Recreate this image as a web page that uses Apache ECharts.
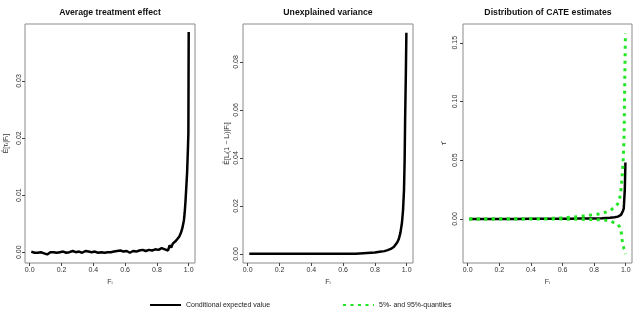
<!DOCTYPE html>
<html><head><meta charset="utf-8">
<script src="https://cdn.jsdelivr.net/npm/echarts@6/dist/echarts.min.js"></script>
<style>html,body{margin:0;padding:0;background:#fff}#c{width:640px;height:309px}</style>
</head><body><div id="c"></div>
<script>
// ---- data ----
const ateF = [0.01,0.03,0.05,0.07,0.09,0.11,0.13,0.15,0.17,0.19,0.21,0.23,0.25,0.27,0.29,0.31,0.33,0.35,0.37,0.39,0.41,0.43,0.45,0.47,0.49,0.51,0.53,0.55,0.57,0.59,0.61,0.63,0.65,0.67,0.69,0.71,0.73,0.75,0.77,0.79,0.81,0.83,0.85,0.87,0.88,0.89,0.90,0.91,0.92,0.93,0.94,0.95,0.96,0.965,0.97,0.975,0.98,0.985,0.99,0.995,0.998,0.999,1.0];
const ateVal = [0.0001,-0.0001,-0.0001,0.0000,-0.0002,-0.0004,0.0000,0.0000,-0.0001,0.0000,0.0001,-0.0001,0.0000,0.0002,0.0000,0.0001,-0.0001,0.0002,0.0001,0.0000,0.0001,-0.0001,0.0000,-0.0001,0.0000,0.0000,0.0001,0.0002,0.0003,0.0001,0.0002,-0.0001,0.0002,0.0001,0.0003,0.0004,0.0002,0.0004,0.0003,0.0005,0.0004,0.0007,0.0005,0.0003,0.0012,0.0008,0.0015,0.0014,0.0020,0.0022,0.0027,0.0033,0.0042,0.0045,0.0056,0.0070,0.0090,0.0115,0.0140,0.0180,0.0209,0.0300,0.0386];

const varF = [0.01,0.1,0.2,0.3,0.4,0.5,0.6,0.68,0.69,0.75,0.8,0.83,0.86,0.88,0.9,0.92,0.94,0.95,0.96,0.97,0.977,0.983,0.987,0.99,0.995,0.998];
const varVal = [0.0001,0.0001,0.0001,0.0001,0.0001,0.0001,0.0001,0.0001,0.0003,0.0004,0.0006,0.0009,0.0012,0.0016,0.0021,0.0030,0.0048,0.0062,0.0087,0.0129,0.0183,0.0267,0.0390,0.0558,0.0767,0.0922];

const cateF = [0.01,0.1,0.2,0.3,0.4,0.5,0.6,0.65,0.7,0.75,0.8,0.85,0.9,0.93,0.95,0.96,0.97,0.977,0.983,0.9875,0.99,0.994,0.998];
const cateMean = [0,0,0,0,0.0001,0.0001,0.0002,0.0002,0.0003,0.0003,0.0004,0.0006,0.0010,0.0014,0.0020,0.0026,0.0035,0.0048,0.0070,0.0090,0.0105,0.0250,0.0480];
const cateUpper = [0,0,0.0001,0.0002,0.0003,0.0004,0.0008,0.0015,0.0020,0.0028,0.0037,0.0046,0.0070,0.0100,0.0130,0.0160,0.0250,0.0360,0.0480,0.0620,0.0750,0.1200,0.1580];
const cateLower = [0,0,0,0,0,0,-0.0001,-0.0002,-0.0003,-0.0004,-0.0005,-0.0008,-0.0015,-0.0035,-0.0045,-0.0065,-0.0094,-0.0179,-0.0220,-0.0250,-0.0260,-0.0280,-0.0300];

const xTicks = [0,0.2,0.4,0.6,0.8,1.0];
const yTicks1 = [0,0.01,0.02,0.03];
const yTicks2 = [0,0.02,0.04,0.06,0.08];
const yTicks3 = [0,0.05,0.10,0.15];

const titles = ['Average treatment effect','Unexplained variance','Distribution of CATE estimates'];
const yNames = ['Ê[τᵢ|Fᵢ]','Ê[Lᵢ(1 − Lᵢ)|Fᵢ]','τ̂'];
const xName = 'Fᵢ';
const nameMean = 'Conditional expected value';
const nameQ = '5%- and 95%-quantiles';

// ---- chart ----
const pairs = (xs, ys) => xs.map((x, i) => [x, ys[i]]);
const GREEN = '#22e622';
const grids = [
  {left: 25, top: 24, width: 170, height: 239},
  {left: 243, top: 24, width: 170, height: 239},
  {left: 463, top: 24, width: 169, height: 239}
].map(g => Object.assign(g, {show: true, borderColor: '#8a8a8a', borderWidth: 1, backgroundColor: 'transparent'}));

function xAxis(i) {
  return {
    gridIndex: i, type: 'value', min: -0.0296, max: 1.0396, position: 'bottom',
    name: xName, nameLocation: 'middle', nameGap: 14,
    nameTextStyle: {fontSize: 7, color: '#333', fontFamily: 'Liberation Sans'},
    axisLine: {show: false, onZero: false}, splitLine: {show: false},
    axisTick: {show: true, inside: false, length: 3, customValues: xTicks, lineStyle: {color: '#444'}},
    axisLabel: {customValues: xTicks, fontSize: 7, color: '#333', margin: 4, fontFamily: 'Liberation Sans',
      formatter: v => v.toFixed(1)}
  };
}
function yAxis(i, min, max, ticks, gap, margin) {
  return {
    gridIndex: i, type: 'value', min: min, max: max, position: 'left',
    name: yNames[i], nameLocation: 'middle', nameRotate: 90, nameGap: gap,
    nameTextStyle: {fontSize: 7, color: '#333', fontFamily: 'Liberation Sans'},
    axisLine: {show: false, onZero: false}, splitLine: {show: false},
    axisTick: {show: true, inside: false, length: 3, customValues: ticks, lineStyle: {color: '#444'}},
    axisLabel: {customValues: ticks, fontSize: 7, color: '#333', margin: margin, rotate: 90, fontFamily: 'Liberation Sans',
      formatter: v => v.toFixed(2)}
  };
}
const blackLine = {color: '#000', width: 2.5};
const greenLine = {color: GREEN, width: 3, type: [3, 4.5]};

const option = {
  animation: false,
  backgroundColor: '#fff',
  grid: grids,
  xAxis: [xAxis(0), xAxis(1), xAxis(2)],
  yAxis: [
    yAxis(0, -0.0019, 0.0400, yTicks1, 15, 2),
    yAxis(1, -0.00375, 0.0958, yTicks2, 12, 3),
    yAxis(2, -0.0375, 0.166, yTicks3, 15, 4)
  ],
  legend: [
    {left: 144, top: 296, itemWidth: 31, itemHeight: 10, itemGap: 0, data: [nameMean],
     itemStyle: {opacity: 0},
     textStyle: {fontSize: 7, color: '#222', fontFamily: 'Liberation Sans'}, selectedMode: false},
    {left: 337, top: 296, itemWidth: 31, itemHeight: 10, itemGap: 0, data: [nameQ],
     itemStyle: {opacity: 0},
     textStyle: {fontSize: 7, color: '#222', fontFamily: 'Liberation Sans'}, selectedMode: false}
  ],
  graphic: titles.map((t, i) => ({
    type: 'text', x: [110, 328, 548][i], y: 13,
    style: {text: t, textAlign: 'center', textVerticalAlign: 'middle',
      font: 'bold 8.7px "Liberation Sans"', fill: '#111'}
  })),
  series: [
    {name: nameMean, type: 'line', xAxisIndex: 0, yAxisIndex: 0, showSymbol: false, symbol: 'none',
     lineStyle: blackLine, itemStyle: {color: '#000'}, data: pairs(ateF, ateVal)},
    {name: nameMean, type: 'line', xAxisIndex: 1, yAxisIndex: 1, showSymbol: false, symbol: 'none',
     lineStyle: blackLine, itemStyle: {color: '#000'}, data: pairs(varF, varVal)},
    {name: nameMean, type: 'line', xAxisIndex: 2, yAxisIndex: 2, showSymbol: false, symbol: 'none',
     lineStyle: blackLine, itemStyle: {color: '#000'}, data: pairs(cateF, cateMean)},
    {name: nameQ, type: 'line', xAxisIndex: 2, yAxisIndex: 2, showSymbol: false, symbol: 'none',
     lineStyle: greenLine, itemStyle: {color: GREEN}, data: pairs(cateF, cateUpper)},
    {name: nameQ, type: 'line', xAxisIndex: 2, yAxisIndex: 2, showSymbol: false, symbol: 'none',
     lineStyle: greenLine, itemStyle: {color: GREEN}, data: pairs(cateF, cateLower)}
  ]
};
echarts.init(document.getElementById('c')).setOption(option);
</script>
</body></html>
